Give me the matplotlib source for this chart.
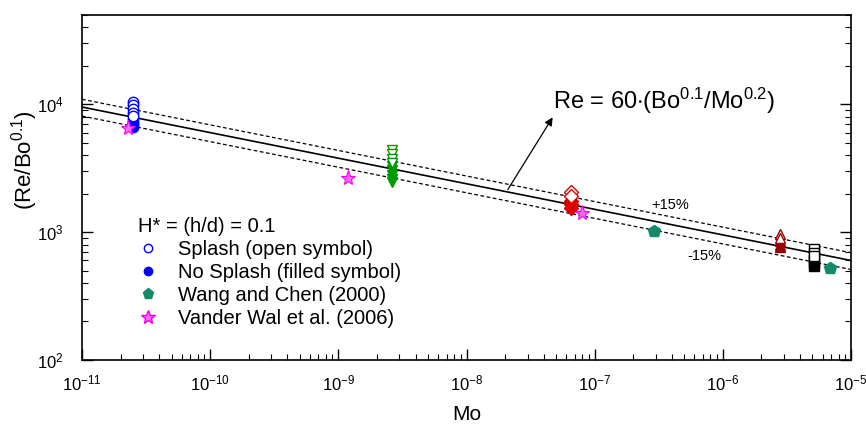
import numpy as np
import matplotlib
matplotlib.use('Agg')
import matplotlib.pyplot as plt
from matplotlib.lines import Line2D

plt.rcParams['font.family'] = ['Liberation Sans', 'DejaVu Sans']
plt.rcParams['mathtext.fontset'] = 'custom'
plt.rcParams['mathtext.rm'] = 'Liberation Sans'
plt.rcParams['mathtext.it'] = 'Liberation Sans'
plt.rcParams['mathtext.bf'] = 'Liberation Sans'

# Dados
mo_blue = 2.5e-11
splash_blue = [10400, 9800, 9100, 8500, 8050]
nosplash_blue = [7700, 7300, 6950, 6650]

mo_green = 2.6e-9
splash_green = [4350, 4050, 3750, 3500]
nosplash_green = [3300, 3050, 2800, 2600, 2450]

mo_red = 6.5e-8
splash_red = [2050, 1920]
nosplash_red = [1750, 1650, 1550]

mo_dred = 2.8e-6
splash_dred = [960, 900]
nosplash_dred = [850, 800, 760]

mo_black = 5.1e-6
splash_black = [740, 690, 650]
nosplash_black = [610, 570, 540]

wang_mo = [2.9e-7, 6.8e-6]
wang_val = [1020, 520]

vander_mo = [2.3e-11, 1.2e-9, 8.0e-8]
vander_val = [6550, 2650, 1420]

# Correlação Re = 60 (Bo^0.1 / Mo^0.2)
mo_line = np.logspace(-11, -5, 100)
fit = 60 * mo_line ** -0.2

fig = plt.figure(figsize=(8.66, 4.25), dpi=100)
ax = fig.add_axes([0.0947, 0.153, 0.888, 0.812])

ax.plot(mo_line, fit, color='black', lw=1.2)
ax.plot(mo_line, fit * 1.15, color='black', lw=0.9, ls=(0, (3, 2)))
ax.plot(mo_line, fit * 0.85, color='black', lw=0.9, ls=(0, (3, 2)))

ms = 7.5
groups = [
    (mo_blue, splash_blue, nosplash_blue, 'o', '#0000ff'),
    (mo_green, splash_green, nosplash_green, 'v', '#009900'),
    (mo_red, splash_red, nosplash_red, 'D', '#dd0000'),
    (mo_dred, splash_dred, nosplash_dred, '^', '#990000'),
    (mo_black, splash_black, nosplash_black, 's', '#000000'),
]
for mo, op, fi, mk, c in groups:
    ax.plot([mo] * len(fi), fi, ls='none', marker=mk, ms=ms, color=c)
    ax.plot([mo] * len(op), op, ls='none', marker=mk, ms=ms, mfc='white',
            mec=c, mew=1.0)

ax.plot(wang_mo, wang_val, ls='none', marker='p', ms=9, color='#138a6a',
        mec='#138a6a')
ax.plot(vander_mo, vander_val, ls='none', marker='*', ms=11, mfc='#ff66ff',
        mec='#ee00ee', mew=0.8)

ax.set_xscale('log')
ax.set_yscale('log')
ax.set_xlim(1e-11, 1e-5)
ax.set_ylim(1e2, 5e4)

ax.tick_params(which='both', direction='in', right=True, top=False,
               labelsize=12)
ax.tick_params(axis='x', which='both', pad=10)
ax.tick_params(axis='y', which='both', pad=13)
ax.tick_params(which='major', length=8, width=1)
ax.tick_params(which='minor', length=4, width=0.8)
ax.xaxis.set_minor_formatter(matplotlib.ticker.NullFormatter())
ax.yaxis.set_minor_formatter(matplotlib.ticker.NullFormatter())
for s in ax.spines.values():
    s.set_linewidth(1.2)

ax.set_xlabel('Mo', fontsize=15, labelpad=8)
ax.set_ylabel(r'(Re/Bo$^{0.1}$)', fontsize=16, labelpad=8)
ax.yaxis.set_label_coords(-0.054, 0.58)

ax.text(4.7e-8, 1.06e4, r'Re = 60$\cdot$(Bo$^{0.1}$/Mo$^{0.2}$)',
        fontsize=17, va='center', ha='left')
ax.annotate('', xy=(4.7e-8, 7900), xytext=(2.1e-8, 2150),
            arrowprops=dict(arrowstyle='-|>', color='black', lw=0.9,
                            mutation_scale=12, shrinkA=0, shrinkB=0))
ax.text(2.74e-7, 1640, '+15%', fontsize=10.5, ha='left', va='center')
ax.text(5.3e-7, 655, '-15%', fontsize=10.5, ha='left', va='center')

handles = [
    Line2D([], [], ls='none', marker='o', ms=6, mfc='white', mec='#0000ff'),
    Line2D([], [], ls='none', marker='o', ms=6, color='#0000ff'),
    Line2D([], [], ls='none', marker='p', ms=8, color='#138a6a'),
    Line2D([], [], ls='none', marker='*', ms=10, mfc='#ff66ff', mec='#ee00ee'),
]
labels = ['Splash (open symbol)', 'No Splash (filled symbol)',
          'Wang and Chen (2000)', 'Vander Wal et al. (2006)']
leg = ax.legend(handles, labels, loc='upper left',
                bbox_to_anchor=(0.073, 0.415), frameon=False, fontsize=14.5,
                handlelength=1.0, handletextpad=1.0, labelspacing=0.2,
                borderaxespad=0, borderpad=0,
                title='H* = (h/d) = 0.1', title_fontsize=14.5)
leg._legend_box.align = 'left'

fig.savefig('out.png', dpi=100)
